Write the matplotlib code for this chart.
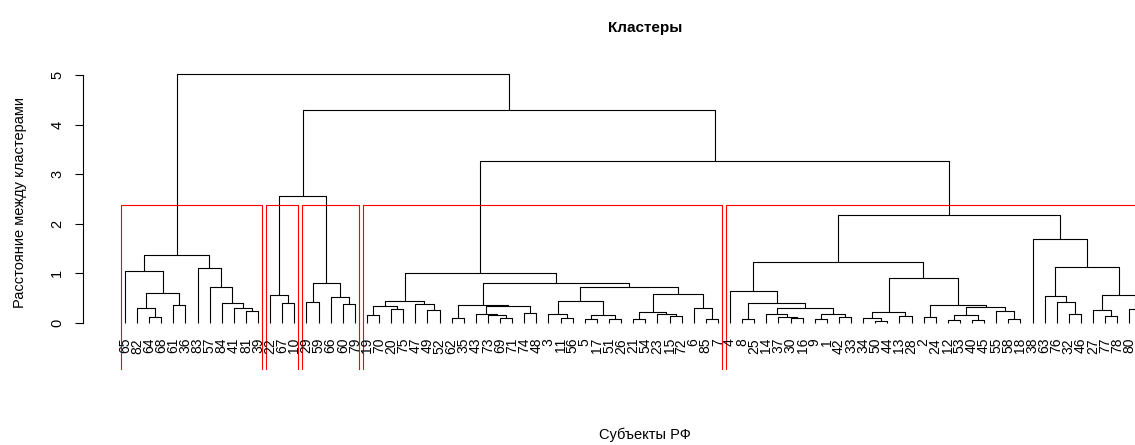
import matplotlib
matplotlib.use("Agg")
import matplotlib.pyplot as plt
from matplotlib.transforms import offset_copy

plt.rcParams['font.family'] = ['Liberation Sans', 'DejaVu Sans']

# ---------------- data: hierarchical clustering tree ----------------
# node = (merge height, left, right); leaf = region number (label)
cluster1 = (1.38,
            (1.04, 65, (0.61, (0.30, 82, (0.13, 64, 68)), (0.36, 61, 36))),
            (1.11, 83, (0.73, 57, (0.40, 84, (0.30, 41, (0.24, 81, 39))))))
cluster2 = (0.56, 22, (0.41, 67, 10))
cluster3 = (0.80, (0.43, 29, 59), (0.53, 66, (0.39, 60, 79)))
cluster4 = (1.00,
            (0.45, (0.34, (0.16, 19, 70), (0.28, 20, 75)), (0.39, 47, (0.26, 49, 52))),
            (0.80,
             (0.36, (0.11, 62, 35),
              (0.34, (0.175, 43, (0.16, 73, (0.11, 69, 71))), (0.21, 74, 48))),
             (0.73,
              (0.45, (0.175, 3, (0.11, 11, 56)), (0.16, (0.075, 5, 17), (0.075, 51, 26))),
              (0.58, (0.23, (0.075, 21, 54), (0.19, 23, (0.14, 15, 72))),
               (0.30, 6, (0.075, 85, 7))))))
cluster5 = (2.18,
            (1.23,
             (0.65, 4, (0.41, (0.09, 8, 25),
                        (0.31, (0.18, 14, (0.13, 37, (0.11, 30, 16))),
                         (0.18, (0.08, 9, 1), (0.12, 42, 33))))),
             (0.90,
              (0.22, (0.11, 34, (0.05, 50, 44)), (0.14, 13, 28)),
              (0.36, (0.12, 2, 24),
               (0.33, (0.155, (0.06, 12, 53), (0.07, 40, 45)),
                (0.24, 55, (0.08, 58, 18)))))),
            (1.69, 38,
             (1.12,
              (0.55, 63, (0.43, 76, (0.18, 32, 46))),
              (0.56, (0.26, 27, (0.14, 77, 78)), (0.29, 80, 31)))))
upper_heights = [2.57, 3.26, 4.29, 5.01]   # merges above the five clusters
n_clusters = 5

tree = (upper_heights[3], cluster1,
        (upper_heights[2], (upper_heights[0], cluster2, cluster3),
         (upper_heights[1], cluster4, cluster5)))

title = "Кластеры"
xlabel = "Субъекты РФ"
ylabel = "Расстояние между кластерами"
yticks = [0, 1, 2, 3, 4, 5]

# ---------------- layout ----------------
segments, leaves, heights = [], [], []


def layout(node):
    if not isinstance(node, tuple):
        leaves.append(node)
        return float(len(leaves) - 1), 0.0
    h, left, right = node
    xl, hl = layout(left)
    xr, hr = layout(right)
    segments.append(([xl, xl, xr, xr], [hl, h, h, hr]))
    heights.append(h)
    return (xl + xr) / 2.0, h


layout(tree)


def count(node):
    return count(node[1]) + count(node[2]) if isinstance(node, tuple) else 1


sizes = [count(c) for c in (cluster1, cluster2, cluster3, cluster4, cluster5)]

W, H = 1135, 445
fig = plt.figure(figsize=(W / 100, H / 100), dpi=100)
L, R, T, B = 83, 1207, 36, 370
ax = fig.add_axes([L / W, 1 - B / H, (R - L) / W, (B - T) / H])
ax.set_xlim(-3.47, 89.42)
ymin, ymax = -0.948, 5.786
ax.set_ylim(ymin, ymax)

for xs, ys in segments:
    ax.plot(xs, ys, color='black', lw=0.8, solid_capstyle='butt')

lab_tr = offset_copy(ax.transData, fig=fig, x=0, y=-15, units='dots')
for i, lab in enumerate(leaves):
    ax.text(i, 0, str(lab), rotation=90, ha='center', va='top',
            fontsize=10, transform=lab_tr, color='black')

# rect.hclust style rectangles
hs = sorted(heights, reverse=True)
rect_top = (hs[n_clusters - 2] + hs[n_clusters - 1]) / 2.0
start = 0
for s in sizes:
    l = start - 0.34
    r = start + s - 1 + 0.33
    ax.plot([l, l, r, r], [ymin, rect_top, rect_top, ymin], color='red', lw=0.8)
    start += s

for side in ('top', 'right', 'bottom'):
    ax.spines[side].set_visible(False)
ax.spines['left'].set_bounds(0, 5)
ax.spines['left'].set_linewidth(0.8)
ax.set_xticks([])
ax.set_yticks(yticks)
ax.set_yticklabels([str(t) for t in yticks], fontsize=10.5)
ax.tick_params(axis='y', length=5.5, width=0.8, pad=8)
for t in ax.get_yticklabels():
    t.set_rotation(90)
    t.set_va('center')

fig.text(645 / W, 1 - 28 / H, title, ha='center', va='center',
         fontsize=11, fontweight='bold')
fig.text(645 / W, 1 - 435 / H, xlabel, ha='center', va='center', fontsize=10.5)
fig.text(20 / W, 1 - 203 / H, ylabel, ha='center', va='center',
         rotation=90, fontsize=10.5)

fig.savefig('out.png', dpi=100)
